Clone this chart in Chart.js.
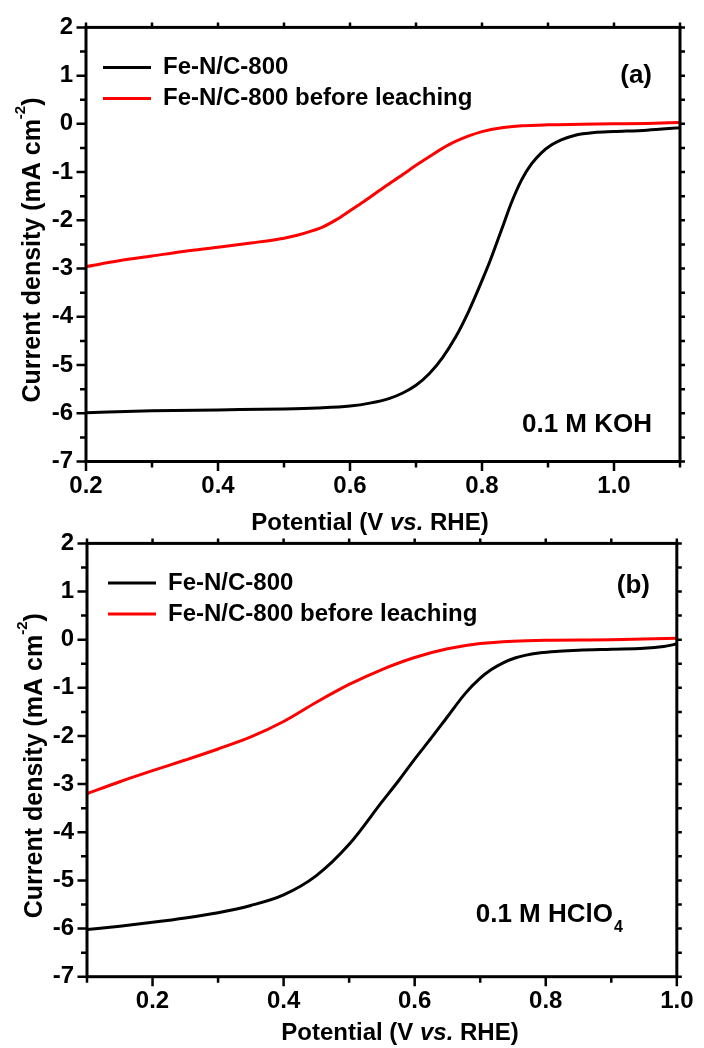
<!DOCTYPE html>
<html><head><meta charset="utf-8">
<script src="https://cdn.jsdelivr.net/npm/chart.js@4.4.1/dist/chart.umd.min.js"></script>
<style>
html,body{margin:0;padding:0;background:#fff;width:704px;height:1048px;overflow:hidden;}
#wrap{position:relative;width:704px;height:1048px;background:#fff;}
canvas{position:absolute;left:0;}
#c1{top:0;} #c2{top:516px;}
</style></head><body>
<div id="wrap"><canvas id="c1" width="704" height="540"></canvas><canvas id="c2" width="704" height="532"></canvas></div>
<script>
// ---------- data (a) 0.1 M KOH ----------
const seriesNames = ['Fe-N/C-800', 'Fe-N/C-800 before leaching'];
const potA_black = [0.2,0.3,0.4,0.5,0.55,0.6,0.63,0.66,0.68,0.7,0.72,0.74,0.76,0.78,0.8,0.812,0.83,0.845,0.86,0.875,0.89,0.905,0.92,0.94,0.97,1.0,1.05,1.1];
const jA_black   = [-5.99,-5.95,-5.93,-5.91,-5.89,-5.85,-5.79,-5.69,-5.58,-5.42,-5.18,-4.85,-4.42,-3.88,-3.25,-2.85,-2.18,-1.62,-1.16,-0.83,-0.60,-0.44,-0.33,-0.24,-0.18,-0.16,-0.13,-0.08];
const potA_red   = [0.2,0.25,0.3,0.35,0.4,0.45,0.5,0.52,0.54,0.56,0.58,0.6,0.62,0.65,0.68,0.7,0.72,0.75,0.78,0.8,0.83,0.86,0.9,0.95,1.0,1.05,1.1];
const jA_red     = [-2.96,-2.84,-2.74,-2.64,-2.56,-2.47,-2.37,-2.31,-2.23,-2.13,-1.98,-1.80,-1.62,-1.33,-1.05,-0.86,-0.68,-0.43,-0.25,-0.16,-0.08,-0.04,-0.02,-0.01,0.0,0.01,0.03];
// ---------- data (b) 0.1 M HClO4 ----------
const potB_black = [0.1,0.15,0.2,0.25,0.3,0.35,0.4,0.45,0.5,0.55,0.576,0.6,0.626,0.65,0.677,0.7,0.717,0.735,0.753,0.77,0.792,0.82,0.85,0.9,0.95,0.98,1.0];
const jB_black   = [-6.02,-5.95,-5.87,-5.78,-5.67,-5.52,-5.30,-4.90,-4.25,-3.37,-2.92,-2.48,-2.03,-1.60,-1.12,-0.80,-0.62,-0.48,-0.38,-0.32,-0.27,-0.24,-0.22,-0.20,-0.18,-0.14,-0.09];
const potB_red   = [0.1,0.15,0.2,0.25,0.3,0.35,0.4,0.45,0.5,0.55,0.6,0.65,0.7,0.75,0.8,0.9,1.0];
const jB_red     = [-3.20,-2.95,-2.72,-2.50,-2.27,-2.02,-1.70,-1.30,-0.93,-0.62,-0.37,-0.19,-0.08,-0.03,-0.01,0.0,0.03];
// axis ranges
const xRangeA = [0.2, 1.1];
const xRangeB = [0.1, 1.0];
const yRange = [-7, 2];

const FONT = "'Liberation Sans', Arial, Helvetica, sans-serif";
const zip = (xs, ys) => xs.map((x, i) => ({x: x, y: ys[i]}));

function drawYTitle(ctx, baseX, cy) {
  ctx.save();
  ctx.translate(baseX, cy);
  ctx.rotate(-Math.PI / 2);
  ctx.fillStyle = '#000';
  ctx.textAlign = 'left';
  ctx.textBaseline = 'alphabetic';
  const main = 'Current density (mA cm', sup = '-2', end = ')';
  ctx.font = 'bold 25px ' + FONT;
  const w1 = ctx.measureText(main).width, w3 = ctx.measureText(end).width;
  ctx.font = 'bold 15px ' + FONT;
  const w2 = ctx.measureText(sup).width;
  let x0 = -(w1 + w2 + w3) / 2;
  ctx.font = 'bold 25px ' + FONT;
  ctx.fillText(main, x0, 0);
  ctx.font = 'bold 15px ' + FONT;
  ctx.fillText(sup, x0 + w1, -15);
  ctx.font = 'bold 25px ' + FONT;
  ctx.fillText(end, x0 + w1 + w2, 0);
  ctx.restore();
}
function drawXTitle(ctx, cx, cy) {
  const parts = [['Potential (V ', 'bold'], ['vs.', 'italic bold'], [' RHE)', 'bold']];
  ctx.save();
  ctx.fillStyle = '#000';
  ctx.textAlign = 'left';
  ctx.textBaseline = 'middle';
  let widths = parts.map(p => { ctx.font = p[1] + ' 24px ' + FONT; return ctx.measureText(p[0]).width; });
  let x = cx - widths.reduce((a, b) => a + b, 0) / 2;
  parts.forEach((p, i) => { ctx.font = p[1] + ' 24px ' + FONT; ctx.fillText(p[0], x, cy); x += widths[i]; });
  ctx.restore();
}

const framePlugin = {
  id: 'frame',
  afterLayout(chart, args, o) {
    const lg = chart.legend;
    if (lg) { lg.left = chart.chartArea.left + o.legendDX; lg.top = chart.chartArea.top + o.legendDY; }
  },
  afterDraw(chart, args, o) {
    const {ctx, chartArea: a} = chart;
    const xs = chart.scales.x, ys = chart.scales.y;
    ctx.save();
    ctx.strokeStyle = '#000';
    ctx.lineCap = 'butt';
    ctx.lineWidth = 2.5;
    ctx.beginPath();
    xs.ticks.forEach(t => {
      const px = xs.getPixelForValue(t.value);
      const L = (t.label !== '' && t.label !== undefined) ? 9.5 : 6;
      ctx.moveTo(px, a.bottom); ctx.lineTo(px, a.bottom + L);
      ctx.moveTo(px, a.top); ctx.lineTo(px, a.top - 5);
    });
    ys.ticks.forEach(t => {
      const vals = [[t.value, 9.5]];
      if (t.value + 0.5 <= ys.max) vals.push([t.value + 0.5, 6]);
      vals.forEach(([v, L]) => {
        const py = ys.getPixelForValue(v);
        ctx.moveTo(a.left, py); ctx.lineTo(a.left - L, py);
        ctx.moveTo(a.right, py); ctx.lineTo(a.right + 5, py);
      });
    });
    ctx.stroke();
    ctx.lineWidth = 3;
    ctx.strokeRect(a.left, a.top, a.right - a.left, a.bottom - a.top);
    ctx.restore();

    drawYTitle(ctx, o.yTitleX, o.yTitleY);
    drawXTitle(ctx, o.xTitleX, o.xTitleY);
    ctx.save();
    ctx.fillStyle = '#000';
    ctx.textBaseline = 'alphabetic';
    o.texts.forEach(t => {
      ctx.font = 'bold ' + t.size + 'px ' + FONT;
      ctx.textAlign = t.align || 'right';
      ctx.fillText(t.text, t.x, t.y);
    });
    ctx.restore();
  }
};

function makeChart(id, c) {
  return new Chart(document.getElementById(id), {
    type: 'line',
    data: {
      datasets: [
        {label: seriesNames[0], data: zip(c.xb, c.yb), borderColor: '#000000', backgroundColor: '#000000',
         borderWidth: 3, pointRadius: 0, cubicInterpolationMode: 'monotone', fill: false},
        {label: seriesNames[1], data: zip(c.xr, c.yr), borderColor: '#ff0000', backgroundColor: '#ff0000',
         borderWidth: 3, pointRadius: 0, cubicInterpolationMode: 'monotone', fill: false}
      ]
    },
    options: {
      responsive: false, animation: false, devicePixelRatio: 1,
      layout: {padding: {left: 0, right: c.padRight, top: c.padTop, bottom: 0}},
      plugins: {
        legend: {
          position: 'chartArea', align: 'start',
          labels: {boxWidth: 48, boxHeight: 0, padding: 7, color: '#000',
                   font: {family: FONT, size: 24, weight: 'bold'}}
        },
        tooltip: {enabled: false},
        frame: c.frame
      },
      scales: {
        x: {
          type: 'linear', min: c.xRange[0], max: c.xRange[1],
          grid: {display: false, drawTicks: false}, border: {display: false},
          ticks: {stepSize: 0.1, autoSkip: false, maxRotation: 0, minRotation: 0, padding: 10.5, color: '#000',
                  font: {family: FONT, size: 24, weight: 'bold'},
                  callback: v => (Math.round(v * 10) % 2 === 0 ? v.toFixed(1) : '')},
          afterFit: s => { s.height = c.xAxisH; }
        },
        y: {
          type: 'linear', min: yRange[0], max: yRange[1],
          grid: {display: false, drawTicks: false}, border: {display: false},
          ticks: {stepSize: 1, padding: 13, color: '#000', font: {family: FONT, size: 24, weight: 'bold'},
                  callback: v => String(Math.round(v))},
          afterFit: s => { s.width = c.yAxisW; }
        }
      }
    },
    plugins: [framePlugin]
  });
}

makeChart('c1', {
  xb: potA_black, yb: jA_black, xr: potA_red, yr: jA_red, xRange: xRangeA,
  padRight: 24, padTop: 27, xAxisH: 78.5, yAxisW: 86,
  frame: {legendDX: 10, legendDY: 21, yTitleX: 40, yTitleY: 250, xTitleX: 370, xTitleY: 523,
          texts: [{text: '(a)', x: 652, y: 83, size: 26}, {text: '0.1 M KOH', x: 652, y: 432, size: 26}]}
});
makeChart('c2', {
  xb: potB_black, yb: jB_black, xr: potB_red, yr: jB_red, xRange: xRangeB,
  padRight: 22, padTop: 26.7, xAxisH: 71.3, yAxisW: 87,
  frame: {legendDX: 14, legendDY: 20.6, yTitleX: 42, yTitleY: 249.7, xTitleX: 400, xTitleY: 517.5,
          texts: [{text: '(b)', x: 650, y: 77, size: 26}, {text: '0.1 M HClO', x: 613, y: 405.7, size: 26},
                  {text: '4', x: 614, y: 416, size: 16, align: 'left'}]}
});
</script>
</body></html>
